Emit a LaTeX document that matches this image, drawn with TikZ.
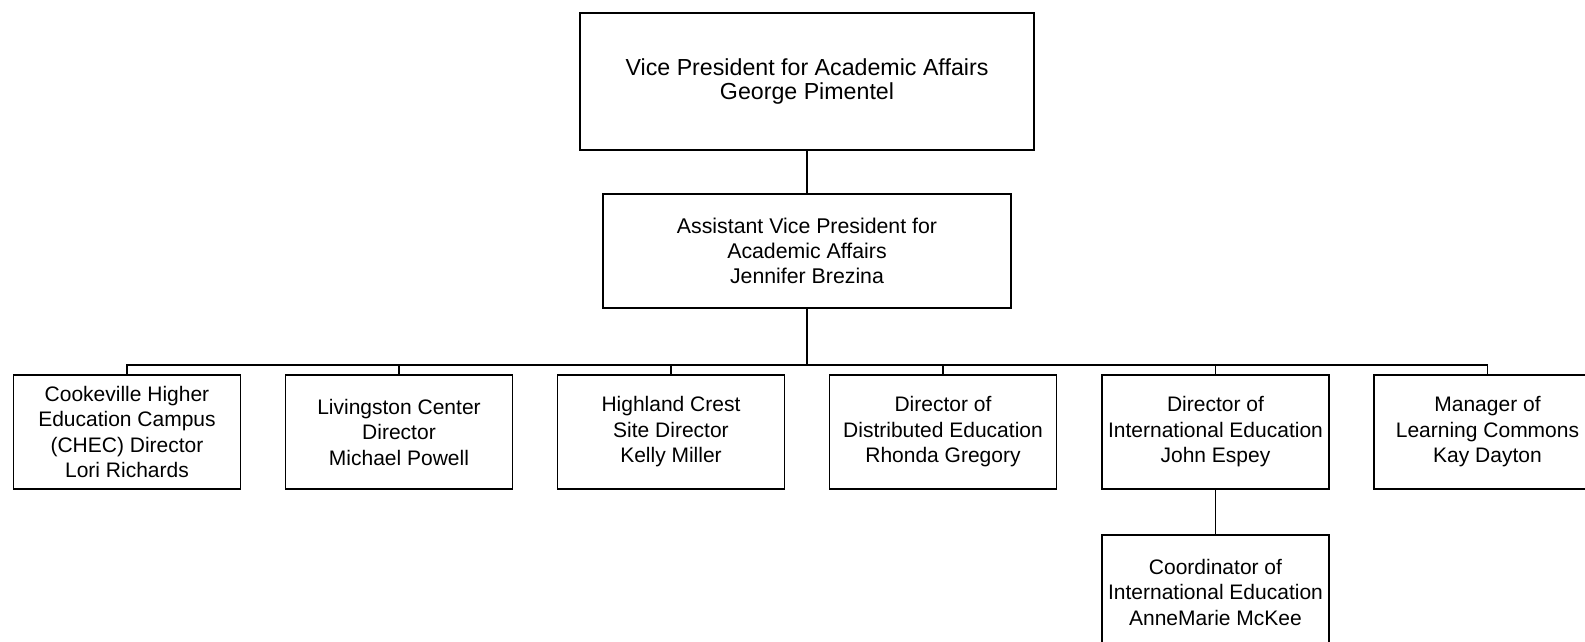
\documentclass[tikz,border=0pt]{standalone}
\usepackage{fontspec}
\setmainfont{Liberation Sans}
\usetikzlibrary{positioning}

\tikzset{
  orgbox/.style={draw,line width=1.3pt,align=center,minimum width=227pt,minimum height=114pt,inner sep=0pt,
    font=\fontsize{21}{25.5}\selectfont},
  link/.style={line width=1.3pt}
}

\begin{document}
\begin{tikzpicture}[x=1pt,y=-1pt]
\useasboundingbox (0,0) rectangle (1585,642);
\clip (0,0) rectangle (1585,642);
% top of the chart
\node[orgbox,minimum width=454pt,minimum height=137pt,font=\fontsize{23.2}{24.5}\selectfont] (vpaa) at (807,81.5) {Vice President for Academic Affairs\\George Pimentel};
\node[orgbox,minimum width=408pt,font=\fontsize{21.3}{25}\selectfont] (avp) at (807,251) {Assistant Vice President for\\Academic Affairs\\Jennifer Brezina};
% directors
\node[orgbox] (chec) at (127,432) {Cookeville Higher\\Education Campus\\(CHEC) Director\\Lori Richards};
\node[orgbox] (livingston) at (399,432) {Livingston Center\\Director\\Michael Powell};
\node[orgbox] (highland) at (671,432) {Highland Crest\\Site Director\\Kelly Miller};
\node[orgbox] (distedu) at (943,432) {Director of\\Distributed Education\\Rhonda Gregory};
\node[orgbox] (intedu) at (1215.5,432) {Director of\\International Education\\John Espey};
\node[orgbox] (commons) at (1487.5,432) {Manager of\\Learning Commons\\Kay Dayton};
\node[orgbox] (coord) at (1215.5,592) {Coordinator of\\International Education\\AnneMarie McKee};
% connectors
\coordinate (bus) at (807,365);
\draw[link] (vpaa.south)--(avp.north);
\draw[line width=2.6pt] (avp.south)--(bus);
\foreach \kid in {chec,livingston,highland,distedu,intedu,commons}
  \draw[link] (bus) -| (\kid.north);
\draw[link] (intedu.south)--(coord.north);
\end{tikzpicture}
\end{document}
